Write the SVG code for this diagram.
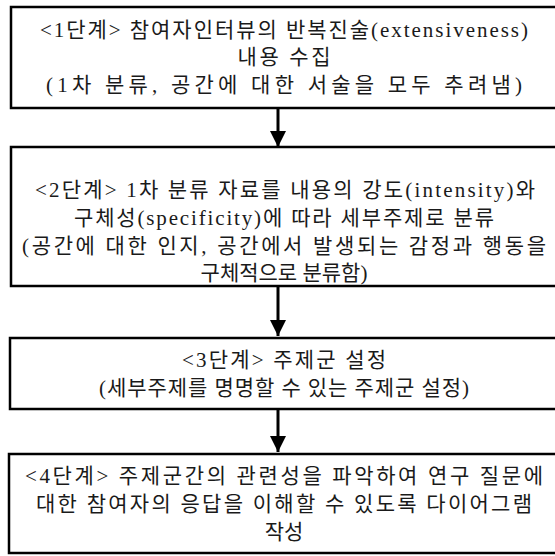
<svg xmlns="http://www.w3.org/2000/svg" width="555" height="556" viewBox="0 0 555 556">
<style>
.box{fill:#fff;stroke:#000;stroke-width:2.5}
.t{font-family:"Liberation Serif","Noto Sans CJK KR",serif;font-size:21px;fill:#1a1a1a;text-anchor:middle}
.c{stroke:#000;stroke-width:3;fill:none}
</style>
<defs>
<marker id="ah" viewBox="0 0 16 16" refX="16" refY="8" markerWidth="16" markerHeight="16" markerUnits="userSpaceOnUse" orient="auto">
<path d="M0,0 L16,8 L0,16 Z" fill="#000"/>
</marker>
</defs>
<rect width="555" height="556" fill="#fff"/>
<g id="connectors">
<line class="c" x1="278" y1="108" x2="278" y2="147" marker-end="url(#ah)"/>
<line class="c" x1="278" y1="287" x2="278" y2="336" marker-end="url(#ah)"/>
<line class="c" x1="278" y1="409" x2="278" y2="452" marker-end="url(#ah)"/>
</g>
<g id="step1">
<rect class="box" x="11" y="7" width="550" height="101"/>
<text class="t" x="284" y="37" textLength="488">&lt;1단계&gt; 참여자인터뷰의 반복진술(extensiveness)</text>
<text class="t" x="284" y="64" textLength="93">내용 수집</text>
<text class="t" x="284" y="92" textLength="476">(1차 분류, 공간에 대한 서술을 모두 추려냄)</text>
</g>
<g id="step2">
<rect class="box" x="11" y="147" width="550" height="139"/>
<text class="t" x="285" y="197" textLength="500">&lt;2단계&gt; 1차 분류 자료를 내용의 강도(intensity)와</text>
<text class="t" x="284" y="225" textLength="420">구체성(specificity)에 따라 세부주제로 분류</text>
<text class="t" x="284" y="253" textLength="524">(공간에 대한 인지, 공간에서 발생되는 감정과 행동을</text>
<text class="t" x="284" y="280">구체적으로 분류함)</text>
</g>
<g id="step3">
<rect class="box" x="10" y="338" width="550" height="71"/>
<text class="t" x="284" y="367" textLength="204">&lt;3단계&gt; 주제군 설정</text>
<text class="t" x="284" y="395" textLength="370">(세부주제를 명명할 수 있는 주제군 설정)</text>
</g>
<g id="step4">
<rect class="box" x="9" y="454" width="550" height="99"/>
<text class="t" x="284" y="483" textLength="518">&lt;4단계&gt; 주제군간의 관련성을 파악하여 연구 질문에</text>
<text class="t" x="284" y="511" textLength="496">대한 참여자의 응답을 이해할 수 있도록 다이어그램</text>
<text class="t" x="284" y="539">작성</text>
</g>
</svg>
